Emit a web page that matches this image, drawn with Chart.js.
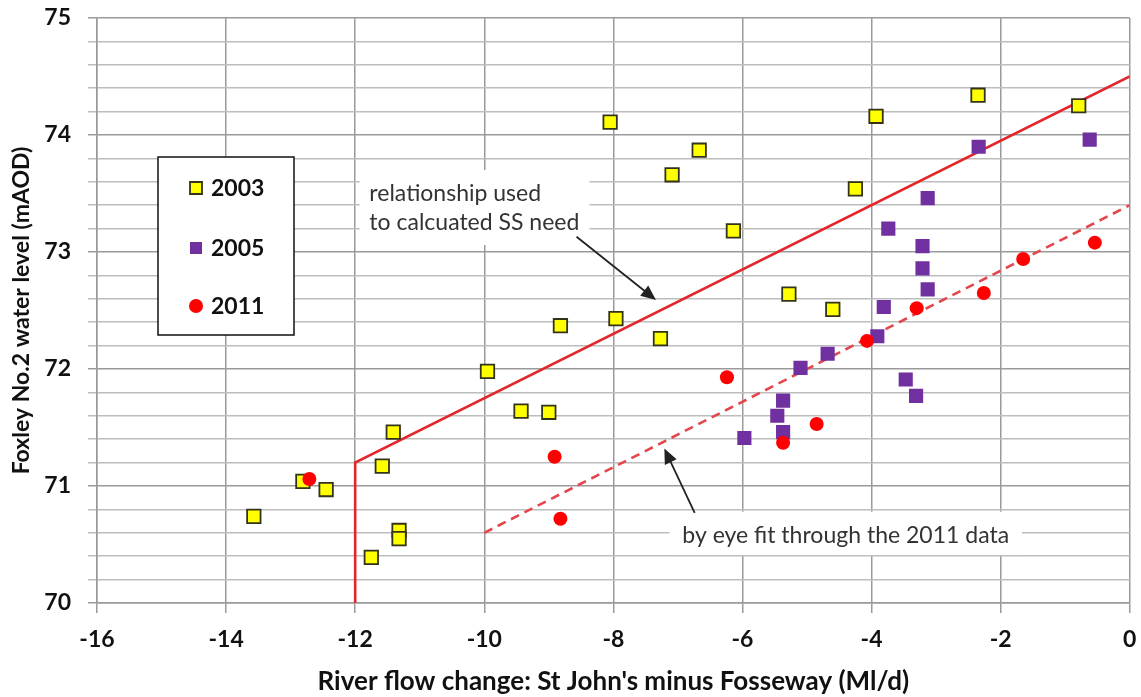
<!DOCTYPE html>
<html>
<head>
<meta charset="utf-8">
<script src="https://cdn.jsdelivr.net/npm/chart.js@4.4.1/dist/chart.umd.min.js"></script>
<style>
    html, body { margin: 0; padding: 0; background: #fff; }
    #wrap { position: relative; width: 1141px; height: 697px; }
</style>
</head>
<body>
<div id="wrap"><canvas id="levelChart"></canvas></div>
<script>
// ---- data ----
const x2003 = [-13.57, -12.81, -12.45, -11.75, -11.58, -11.41, -11.32, -11.32, -9.95, -9.43, -9.00, -8.82,
               -8.05, -7.96, -7.27, -7.09, -6.67, -6.14, -5.28, -4.60, -4.25, -3.93, -2.35, -0.79];
const y2003 = [70.74, 71.04, 70.97, 70.39, 71.17, 71.46, 70.62, 70.55, 71.98, 71.64, 71.63, 72.37,
               74.11, 72.43, 72.26, 73.66, 73.87, 73.18, 72.64, 72.51, 73.54, 74.16, 74.34, 74.25];

const x2005 = [-5.97, -5.46, -5.37, -5.37, -5.10, -4.68, -3.91, -3.81, -3.74, -3.47, -3.31, -3.21, -3.21,
               -3.13, -3.13, -2.34, -0.62];
const y2005 = [71.41, 71.60, 71.73, 71.46, 72.01, 72.13, 72.28, 72.53, 73.20, 71.91, 71.77, 73.05, 72.86,
               72.68, 73.46, 73.90, 73.96];

const x2011 = [-12.71, -8.91, -8.82, -6.24, -5.37, -4.85, -4.07, -3.30, -2.26, -1.65, -0.54];
const y2011 = [71.06, 71.25, 70.72, 71.93, 71.37, 71.53, 72.24, 72.52, 72.65, 72.94, 73.08];

// relationship used for SS need (solid) and by-eye fit (dashed)
const ssLineX = [-12, -12, 0];
const ssLineY = [70, 71.2, 74.5];
const fitLineX = [-10, 0];
const fitLineY = [70.6, 73.4];

const xTickValues = [-16, -14, -12, -10, -8, -6, -4, -2, 0];
const yTickValues = [70, 71, 72, 73, 74, 75];

const seriesNames = ['2003', '2005', '2011'];

const toPoints = (xs, ys) => xs.map((x, i) => ({ x: x, y: ys[i] }));

const FONT = 'Lato, "Open Sans", sans-serif';

// ---- annotations: legend box, text boxes, arrows ----
function arrow(c, x1, y1, x2, y2) {
    const ang = Math.atan2(y2 - y1, x2 - x1);
    const hl = 15, hw = 6.5;
    c.save();
    c.strokeStyle = '#222';
    c.fillStyle = '#222';
    c.lineWidth = 1.8;
    c.beginPath();
    c.moveTo(x1, y1);
    c.lineTo(x2 - Math.cos(ang) * hl * 0.8, y2 - Math.sin(ang) * hl * 0.8);
    c.stroke();
    c.beginPath();
    c.moveTo(x2, y2);
    c.lineTo(x2 - hl * Math.cos(ang) + hw * Math.sin(ang), y2 - hl * Math.sin(ang) - hw * Math.cos(ang));
    c.lineTo(x2 - hl * Math.cos(ang) - hw * Math.sin(ang), y2 - hl * Math.sin(ang) + hw * Math.cos(ang));
    c.closePath();
    c.fill();
    c.restore();
}

const notesPlugin = {
    id: 'notes',
    afterDatasetsDraw(chart) {
        const c = chart.ctx;
        const xs = chart.scales.x, ys = chart.scales.y;
        const area = chart.chartArea;
        const px = v => xs.getPixelForValue(v);
        const py = v => ys.getPixelForValue(v);

        c.save();
        c.font = '23px ' + FONT;
        c.textBaseline = 'middle';

        // upper note
        c.fillStyle = '#fff';
        c.fillRect(px(-11.93), py(73.70), px(-8.37) - px(-11.93), py(73.06) - py(73.70));
        c.fillStyle = '#333';
        c.textAlign = 'left';
        c.fillText('relationship used', px(-11.78), py(73.50));
        c.fillText('to calcuated SS need', px(-11.78), py(73.25));
        arrow(c, px(-8.57), py(73.13), px(-7.34), py(72.59));

        // lower note
        c.fillStyle = '#fff';
        c.fillRect(px(-7.13), py(70.78), px(-1.67) - px(-7.13), py(70.41) - py(70.78));
        c.fillStyle = '#333';
        c.textAlign = 'center';
        c.fillText('by eye fit through the 2011 data', px(-4.40), py(70.58));
        arrow(c, px(-6.74), py(70.77), px(-7.21), py(71.32));

        // legend box
        const lx = area.left + 61, ly = area.top + 139, lw = 136, lh = 178;
        c.fillStyle = '#fff';
        c.fillRect(lx, ly, lw, lh);
        c.strokeStyle = '#111';
        c.lineWidth = 1.5;
        c.strokeRect(lx, ly, lw, lh);

        const rowY = [31, 91, 149];
        chart.data.datasets.slice(0, 3).forEach((ds, i) => {
            const cy = ly + rowY[i], cx = lx + 38;
            c.fillStyle = ds.backgroundColor;
            c.strokeStyle = ds.borderColor;
            c.lineWidth = ds.borderWidth;
            c.beginPath();
            if (ds.pointStyle === 'circle') c.arc(cx, cy, 7, 0, Math.PI * 2);
            else c.rect(cx - 6, cy - 6, 12, 12);
            c.fill();
            if (ds.borderWidth) c.stroke();
            c.fillStyle = '#111';
            c.textAlign = 'left';
            c.font = 'bold 23px ' + FONT;
            c.fillText(ds.label, cx + 15, cy + 1);
        });
        c.restore();
    }
};

const isWhole = v => Math.abs(v - Math.round(v)) < 1e-6;

new Chart(document.getElementById('levelChart'), {
    type: 'scatter',
    data: {
        datasets: [
            {
                label: seriesNames[0], data: toPoints(x2003, y2003), order: 3,
                pointStyle: 'rect', pointRadius: 9.5, pointHoverRadius: 9.5,
                backgroundColor: '#ffff00', borderColor: '#33331a', borderWidth: 1.8
            },
            {
                label: seriesNames[1], data: toPoints(x2005, y2005), order: 2,
                pointStyle: 'rect', pointRadius: 10, pointHoverRadius: 10,
                backgroundColor: '#7030a0', borderColor: '#7030a0', borderWidth: 0
            },
            {
                label: seriesNames[2], data: toPoints(x2011, y2011), order: 1,
                pointStyle: 'circle', pointRadius: 7, pointHoverRadius: 7,
                backgroundColor: '#ff0000', borderColor: '#ff0000', borderWidth: 0
            },
            {
                label: 'SS relationship', data: toPoints(ssLineX, ssLineY), order: 10,
                showLine: true, pointRadius: 0, borderColor: '#e3262c', borderWidth: 2.6, fill: false
            },
            {
                label: 'by eye fit', data: toPoints(fitLineX, fitLineY), order: 10,
                showLine: true, pointRadius: 0, borderColor: '#e3474d', borderWidth: 2.6,
                borderDash: [9, 6], fill: false
            }
        ]
    },
    options: {
        responsive: true,
        maintainAspectRatio: false,
        animation: false,
        layout: { padding: { top: 18, right: 10, left: 0, bottom: 0 } },
        plugins: {
            legend: { display: false },
            tooltip: { enabled: false }
        },
        scales: {
            x: {
                type: 'linear',
                min: xTickValues[0],
                max: xTickValues[xTickValues.length - 1],
                afterBuildTicks: scale => { scale.ticks = xTickValues.map(v => ({ value: v })); },
                afterFit: scale => {
                    scale.height = 94;
                    scale.paddingLeft = 0;
                    scale.paddingRight = 0;
                },
                grid: { color: '#9a9a9a', lineWidth: 1.5, tickLength: 10 },
                border: { color: '#9a9a9a', width: 1.5 },
                ticks: {
                    padding: 13,
                    color: '#111',
                    font: { family: FONT, size: 23, weight: 'bold' }
                },
                title: {
                    display: true,
                    text: "River flow change: St John's minus Fosseway (Ml/d)",
                    color: '#111',
                    padding: { top: 0, bottom: 0 },
                    font: { family: FONT, size: 26, weight: 'bold' }
                }
            },
            y: {
                type: 'linear',
                min: yTickValues[0],
                max: yTickValues[yTickValues.length - 1],
                afterFit: scale => {
                    scale.width = 97;
                    scale.paddingTop = 0;
                    scale.paddingBottom = 0;
                },
                grid: {
                    color: c => isWhole(c.tick.value) ? '#9a9a9a' : '#bdbdbd',
                    lineWidth: 1.5,
                    tickLength: 9
                },
                border: { color: '#9a9a9a', width: 1.5 },
                ticks: {
                    stepSize: 0.2,
                    maxTicksLimit: 100,
                    autoSkip: false,
                    padding: 17,
                    color: '#111',
                    font: { family: FONT, size: 23, weight: 'bold' },
                    callback: v => (isWhole(v) && yTickValues.includes(Math.round(v))) ? String(Math.round(v)) : ''
                },
                title: {
                    display: true,
                    text: 'Foxley No.2 water level (mAOD)',
                    color: '#111',
                    padding: { top: 8, bottom: 0 },
                    font: { family: FONT, size: 23, weight: 'bold' }
                }
            }
        }
    },
    plugins: [notesPlugin]
});
</script>
</body>
</html>
